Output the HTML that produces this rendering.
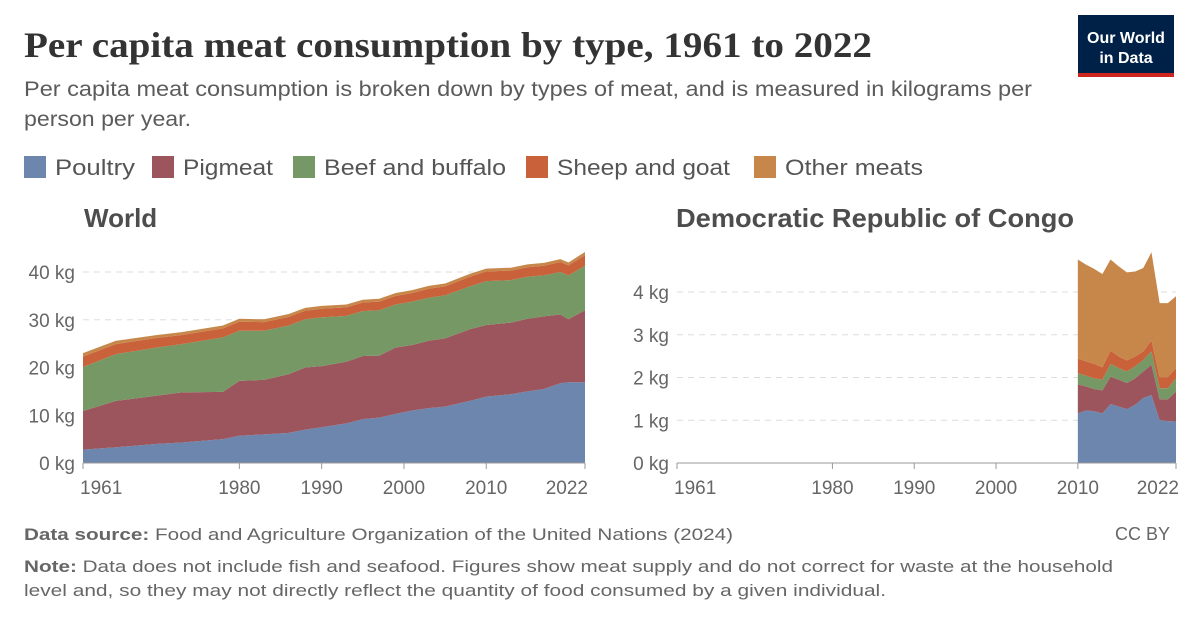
<!DOCTYPE html>
<html><head><meta charset="utf-8">
<style>
body{margin:0;background:#fff;}
svg{display:block;font-family:"Liberation Sans",sans-serif;}
</style></head>
<body>
<svg id="c" width="1200" height="627" viewBox="0 0 1200 627" xmlns="http://www.w3.org/2000/svg">
<text x="24" y="57" font-family="Liberation Serif,serif" font-weight="bold" font-size="36" fill="#333" textLength="848" lengthAdjust="spacingAndGlyphs">Per capita meat consumption by type, 1961 to 2022</text>
<text x="24" y="96" font-size="21" fill="#5b5b5b" textLength="1008" lengthAdjust="spacingAndGlyphs">Per capita meat consumption is broken down by types of meat, and is measured in kilograms per</text>
<text x="24" y="126" font-size="21" fill="#5b5b5b" textLength="167" lengthAdjust="spacingAndGlyphs">person per year.</text>
<g>
<rect x="1078" y="15" width="96" height="62" fill="#002147"/>
<rect x="1078" y="73" width="96" height="4" fill="#ce261e"/>
<text x="1126" y="43" font-size="16" font-weight="bold" fill="#fff" text-anchor="middle">Our World</text>
<text x="1126" y="63" font-size="16" font-weight="bold" fill="#fff" text-anchor="middle">in Data</text>
</g>
<g id="legend"></g>
<text x="84" y="227" font-size="26" font-weight="bold" fill="#4d4d4d">World</text>
<text x="676" y="227" font-size="26" font-weight="bold" fill="#4d4d4d" textLength="398" lengthAdjust="spacingAndGlyphs">Democratic Republic of Congo</text>
<g id="p1"></g>
<g id="p2"></g>
<text x="24" y="540" font-size="17" fill="#666" textLength="709" lengthAdjust="spacingAndGlyphs"><tspan font-weight="bold">Data source:</tspan> Food and Agriculture Organization of the United Nations (2024)</text>
<text x="1170" y="540" font-size="18" fill="#666" text-anchor="end">CC BY</text>
<text x="24" y="572" font-size="17" fill="#666" textLength="1089" lengthAdjust="spacingAndGlyphs"><tspan font-weight="bold">Note:</tspan> Data does not include fish and seafood. Figures show meat supply and do not correct for waste at the household</text>
<text x="24" y="596" font-size="17" fill="#666" textLength="862" lengthAdjust="spacingAndGlyphs">level and, so they may not directly reflect the quantity of food consumed by a given individual.</text>
</svg>
<script>
const seriesNames=["Poultry","Pigmeat","Beef and buffalo","Sheep and goat","Other meats"];
const colors=["#6d86ae","#9c555d","#759864","#c9623a","#c8874a"];
const worldYears=[1961,1965,1970,1973,1978,1980,1983,1986,1988,1990,1993,1995,1997,1999,2001,2003,2005,2008,2010,2013,2015,2017,2019,2020,2022];
const worldPoultry=[2.8,3.3,4.0,4.3,5.0,5.7,6.0,6.3,7.0,7.5,8.3,9.2,9.5,10.3,11.0,11.5,11.8,13.0,13.9,14.4,15.0,15.5,16.7,16.9,16.9];
const worldPig=[8.1,9.7,10.1,10.5,9.9,11.5,11.4,12.3,13.0,12.8,12.9,13.2,13.0,13.9,13.7,14.1,14.3,15.0,15.0,15.0,15.2,15.2,14.4,13.2,15.1];
const worldBeef=[9.2,9.8,10.1,10.1,11.4,10.5,10.3,10.2,10.1,10.2,9.6,9.4,9.5,9.0,9.1,9.0,9.0,9.0,9.2,8.9,8.8,8.6,8.9,9.2,9.3];
const worldSheep=[2.2,2.1,2.0,1.9,1.9,1.9,1.8,1.8,1.8,1.8,1.8,1.8,1.8,1.8,1.8,1.9,1.9,2.0,2.0,2.0,2.0,2.0,2.1,2.1,2.2];
const worldOther=[0.7,0.7,0.6,0.6,0.6,0.6,0.6,0.6,0.6,0.6,0.6,0.6,0.6,0.6,0.6,0.6,0.6,0.6,0.6,0.6,0.6,0.6,0.6,0.6,0.7];
const congoYears=[2010,2011,2012,2013,2014,2015,2016,2017,2018,2019,2020,2021,2022];
const congoPoultry=[1.16,1.23,1.21,1.16,1.38,1.32,1.26,1.36,1.52,1.59,1.0,0.98,0.97];
const congoPig=[0.68,0.56,0.52,0.54,0.64,0.63,0.61,0.62,0.62,0.71,0.49,0.51,0.70];
const congoBeef=[0.26,0.25,0.25,0.25,0.30,0.27,0.27,0.28,0.27,0.31,0.26,0.26,0.31];
const congoSheep=[0.34,0.34,0.34,0.29,0.31,0.27,0.26,0.23,0.20,0.26,0.26,0.26,0.24];
const congoOther=[2.32,2.26,2.22,2.18,2.13,2.11,2.06,1.99,1.95,2.06,1.73,1.73,1.68];
const worldTicks=[0,10,20,30,40];
const congoTicks=[0,1,2,3,4];
const xTickYears=[1961,1980,1990,2000,2010,2022];
const NS="http://www.w3.org/2000/svg";
function mk(parent,tag,attrs){const e=document.createElementNS(NS,tag);for(const k in attrs)e.setAttribute(k,attrs[k]);parent.appendChild(e);return e;}

const lg=document.getElementById('legend');
const legX=[24,152,293,526,754];
const legW=[80,90,182,173,138];
seriesNames.forEach((n,i)=>{
  const r=mk(lg,'rect',{x:legX[i],y:156,width:22,height:22,fill:colors[i]});
  
  
  const t=mk(lg,'text',{x:legX[i]+31,y:175,'font-size':22,fill:'#555',textLength:legW[i],lengthAdjust:'spacingAndGlyphs'});
  t.textContent=n;
  
  
});

function panel(g,x0,x1,yMax,ticks,years,series){
  const y0=463;
  const X=v=>x0+(v-1961)/(2022-1961)*(x1-x0);
  const Y=v=>y0-v*(yMax===40?(463-272)/40:(463-292)/4);
  ticks.forEach(t=>{
    if(t>0){const l=mk(g,'line',{x1:x0,x2:x1,y1:Y(t),y2:Y(t),stroke:'#ddd','stroke-dasharray':'6,5'});
    
    }
    const tx=mk(g,'text',{x:x0-8,y:Y(t)+7,'font-size':19,fill:'#666','text-anchor':'end'});
    tx.textContent=t+' kg';
    
    
  });
  const base=years.map(()=>0);
  series.forEach((s,i)=>{
    const top=base.map((b,j)=>b+s[j]);
    let d='M'+years.map((yr,j)=>X(yr)+','+Y(top[j])).join(' L');
    for(let j=years.length-1;j>=0;j--)d+=' L'+X(years[j])+','+Y(base[j]);
    d+='Z';
    const p=mk(g,'path',{d:d,fill:colors[i]});
    
    
    top.forEach((v,j)=>base[j]=v);
  });
  const ax=mk(g,'line',{x1:x0,x2:x1,y1:y0,y2:y0,stroke:'#999'});
  
  
  xTickYears.forEach(yr=>{
    const tk=mk(g,'line',{x1:X(yr),x2:X(yr),y1:y0,y2:y0+6,stroke:'#999'});
    
    
    const anchor=yr===1961?'start':(yr===2022?'end':'middle');
    const t=mk(g,'text',{x:yr===1961?X(yr)-3:(yr===2022?X(yr)+3:X(yr)),y:y0+31,'font-size':19,fill:'#666','text-anchor':anchor});
    t.textContent=yr;
    
    
  });
}
panel(document.getElementById('p1'),83,585,40,worldTicks,worldYears,[worldPoultry,worldPig,worldBeef,worldSheep,worldOther]);
panel(document.getElementById('p2'),677,1176,4,congoTicks,congoYears,[congoPoultry,congoPig,congoBeef,congoSheep,congoOther]);
</script>
</body></html>
